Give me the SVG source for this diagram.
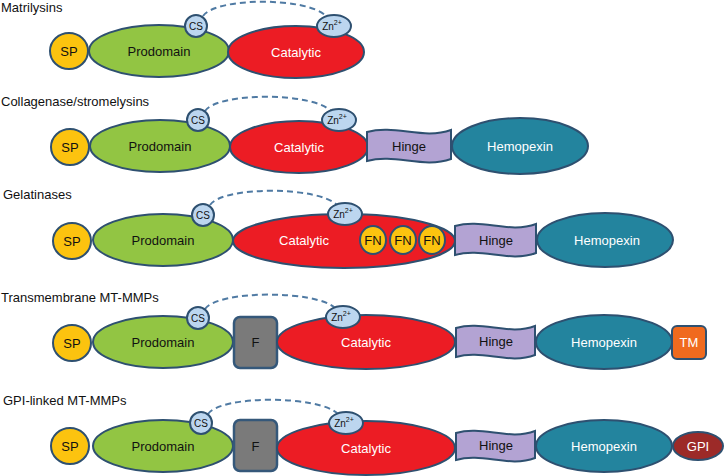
<svg xmlns="http://www.w3.org/2000/svg" width="725" height="476" viewBox="0 0 725 476">
<defs>
<style>
text{font-family:"Liberation Sans",Arial,sans-serif;text-anchor:middle}
.title{font-size:13px;text-anchor:start;fill:#111}
.lbl{font-size:13px;fill:#111}
.w{fill:#fff}
.sm{font-size:10px;fill:#111}
.sup{font-size:7px}
.o{stroke:#2e5070;stroke-width:2}
.sp{fill:#fcc30f}
.pro{fill:#92c543}
.cat{fill:#ec1c24}
.blue{fill:#bcd6ef}
.hin{fill:#b3a3d3}
.hem{fill:#23849e}
.f{fill:#7a7a7a;stroke:#35587a;stroke-width:2.5}
.tm{fill:#f06a1e}
.gpi{fill:#9c2a28}
.fn{fill:#fcc30f}
.arc{fill:none;stroke:#4f7aa3;stroke-width:2;stroke-dasharray:6 4}
</style>
</defs>
<rect width="725" height="476" fill="#fff"/>

<g id="titles">
<text class="title" x="1" y="12">Matrilysins</text>
<text class="title" x="1" y="106">Collagenase/stromelysins</text>
<text class="title" x="3" y="199">Gelatinases</text>
<text class="title" x="1" y="302">Transmembrane MT-MMPs</text>
<text class="title" x="3" y="405">GPI-linked MT-MMPs</text>
</g>

<g id="connectors">
<path class="arc" d="M203,16 C216,-3 308,-3 326,16"/>
<path class="arc" d="M205,111 C218,92 312,92 331,111"/>
<path class="arc" d="M210,205 C223,186 318,186 337,205"/>
<path class="arc" d="M205,309 C218,290 316,290 335,308"/>
<path class="arc" d="M208,414 C221,395 319,395 338,414"/>
</g>

<!-- Row 1 -->
<g id="r1-sp"><ellipse class="sp o" cx="69" cy="51" rx="19" ry="18"/><text class="lbl" x="69" y="56" font-size="14">SP</text></g>
<g id="r1-pro"><ellipse class="pro o" cx="159" cy="51" rx="70" ry="26"/><text class="lbl" x="159" y="56">Prodomain</text></g>
<g id="r1-cs"><circle class="blue o" cx="196" cy="26" r="11"/><text class="sm" x="196" y="30">CS</text></g>
<g id="r1-cat"><ellipse class="cat o" cx="296" cy="52" rx="68" ry="26"/><text class="lbl w" x="296" y="57">Catalytic</text></g>
<g id="r1-zn"><ellipse class="blue o" cx="334" cy="26" rx="17" ry="11"/><text class="sm" x="332" y="30">Zn<tspan class="sup" dy="-5">2+</tspan></text></g>

<!-- Row 2 -->
<g id="r2-sp"><ellipse class="sp o" cx="70" cy="147" rx="19" ry="18"/><text class="lbl" x="70" y="152">SP</text></g>
<g id="r2-pro"><ellipse class="pro o" cx="160" cy="146" rx="70" ry="26"/><text class="lbl" x="160" y="151">Prodomain</text></g>
<g id="r2-cs"><circle class="blue o" cx="198" cy="120" r="11"/><text class="sm" x="198" y="124">CS</text></g>
<g id="r2-cat"><ellipse class="cat o" cx="299" cy="147" rx="69" ry="26"/><text class="lbl w" x="299" y="152">Catalytic</text></g>
<g id="r2-zn"><ellipse class="blue o" cx="339" cy="120" rx="17" ry="11"/><text class="sm" x="337" y="124">Zn<tspan class="sup" dy="-5">2+</tspan></text></g>
<g id="r2-hinge"><path class="hin o" d="M367,132 C395,124 423,140 451,130 L451,159 C423,169 395,153 367,161 Z"/><text class="lbl" x="409" y="151">Hinge</text></g>
<g id="r2-hem"><ellipse class="hem o" cx="520" cy="146" rx="68" ry="28"/><text class="lbl w" x="520" y="151">Hemopexin</text></g>

<!-- Row 3 -->
<g id="r3-sp"><ellipse class="sp o" cx="72" cy="241" rx="19" ry="18"/><text class="lbl" x="72" y="246">SP</text></g>
<g id="r3-pro"><ellipse class="pro o" cx="163" cy="240" rx="70" ry="26"/><text class="lbl" x="163" y="245">Prodomain</text></g>
<g id="r3-cs"><circle class="blue o" cx="203" cy="215" r="11"/><text class="sm" x="203" y="219">CS</text></g>
<g id="r3-cat"><ellipse class="cat o" cx="344" cy="241" rx="111" ry="27"/><text class="lbl w" x="304" y="245">Catalytic</text></g>
<g id="r3-zn"><ellipse class="blue o" cx="345" cy="214" rx="17" ry="11"/><text class="sm" x="343" y="218">Zn<tspan class="sup" dy="-5">2+</tspan></text></g>
<g id="r3-fn1"><ellipse class="fn o" cx="373" cy="240" rx="13" ry="14"/><text class="lbl" x="373" y="245">FN</text></g>
<g id="r3-fn2"><ellipse class="fn o" cx="403" cy="240" rx="13" ry="14"/><text class="lbl" x="403" y="245">FN</text></g>
<g id="r3-fn3"><ellipse class="fn o" cx="432" cy="240" rx="13" ry="14"/><text class="lbl" x="432" y="245">FN</text></g>
<g id="r3-hinge"><path class="hin o" d="M455,226 C482,218 509,234 536,224 L536,253 C509,263 482,247 455,255 Z"/><text class="lbl" x="496" y="245">Hinge</text></g>
<g id="r3-hem"><ellipse class="hem o" cx="605" cy="240" rx="68" ry="27"/><text class="lbl w" x="607" y="245">Hemopexin</text></g>

<!-- Row 4 -->
<g id="r4-sp"><ellipse class="sp o" cx="72" cy="343" rx="19" ry="18"/><text class="lbl" x="72" y="348">SP</text></g>
<g id="r4-pro"><ellipse class="pro o" cx="163" cy="342" rx="70" ry="26"/><text class="lbl" x="163" y="347">Prodomain</text></g>
<g id="r4-cs"><circle class="blue o" cx="198" cy="318" r="11"/><text class="sm" x="198" y="322">CS</text></g>
<g id="r4-f"><rect class="f" x="234" y="317" width="43" height="51" rx="6"/><text class="lbl" x="255.5" y="347">F</text></g>
<g id="r4-cat"><ellipse class="cat o" cx="366" cy="342" rx="89" ry="27"/><text class="lbl w" x="366" y="347">Catalytic</text></g>
<g id="r4-zn"><ellipse class="blue o" cx="343" cy="317" rx="17" ry="11"/><text class="sm" x="341" y="321">Zn<tspan class="sup" dy="-5">2+</tspan></text></g>
<g id="r4-hinge"><path class="hin o" d="M456,328 C482,320 509,336 535,326 L535,355 C509,365 482,349 456,357 Z"/><text class="lbl" x="496" y="346">Hinge</text></g>
<g id="r4-hem"><ellipse class="hem o" cx="604" cy="342" rx="68" ry="27"/><text class="lbl w" x="604" y="347">Hemopexin</text></g>
<g id="r4-tm"><rect class="tm o" x="672" y="326" width="34" height="33" rx="5"/><text class="lbl w" x="689" y="347">TM</text></g>

<!-- Row 5 -->
<g id="r5-sp"><ellipse class="sp o" cx="70" cy="446" rx="19" ry="18"/><text class="lbl" x="70" y="451">SP</text></g>
<g id="r5-pro"><ellipse class="pro o" cx="163" cy="446" rx="70" ry="26"/><text class="lbl" x="163" y="451">Prodomain</text></g>
<g id="r5-cs"><circle class="blue o" cx="201" cy="423" r="11"/><text class="sm" x="201" y="427">CS</text></g>
<g id="r5-f"><rect class="f" x="234" y="420" width="43" height="51" rx="6"/><text class="lbl" x="255.5" y="451">F</text></g>
<g id="r5-cat"><ellipse class="cat o" cx="366" cy="448" rx="89" ry="27"/><text class="lbl w" x="366" y="453">Catalytic</text></g>
<g id="r5-zn"><ellipse class="blue o" cx="346" cy="423" rx="17" ry="11"/><text class="sm" x="344" y="427">Zn<tspan class="sup" dy="-5">2+</tspan></text></g>
<g id="r5-hinge"><path class="hin o" d="M456,433 C482,425 509,441 535,431 L535,458 C509,468 482,452 456,460 Z"/><text class="lbl" x="496" y="450">Hinge</text></g>
<g id="r5-hem"><ellipse class="hem o" cx="604" cy="446" rx="68" ry="26"/><text class="lbl w" x="604" y="451">Hemopexin</text></g>
<g id="r5-gpi"><ellipse class="gpi o" cx="698" cy="446" rx="25" ry="14"/><text class="lbl w" x="698" y="451">GPI</text></g>
</svg>
